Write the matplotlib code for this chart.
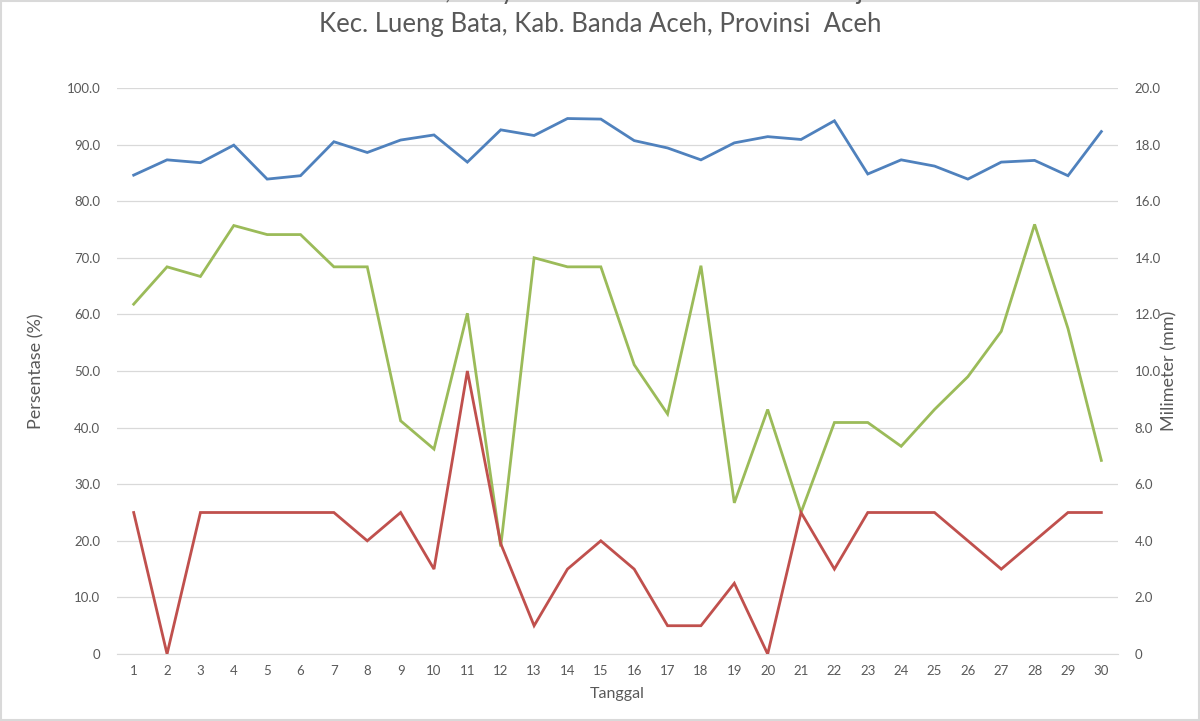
# -*- coding: utf-8 -*-
"""Grafik harian: persentase (sumbu kiri) dan curah hujan mm (sumbu kanan)."""
import matplotlib
matplotlib.use("Agg")
import matplotlib.pyplot as plt
from matplotlib.patches import Rectangle
from matplotlib.ticker import FuncFormatter

# Warna tema Excel 2007
BLUE = "#4F81BD"
RED = "#C0504D"
GREEN = "#9BBB59"
GRID = "#D9D9D9"
TEXT = "#595959"

plt.rcParams["font.family"] = ["Lato", "DejaVu Sans"]

tanggal = list(range(1, 31))

# Persentase (%) - sumbu kiri
seri_biru = [84.6, 87.3, 86.8, 89.9, 83.9, 84.5, 90.5, 88.6, 90.8, 91.7,
             86.9, 92.6, 91.6, 94.6, 94.5, 90.7, 89.4, 87.3, 90.3, 91.4,
             90.9, 94.2, 84.8, 87.3, 86.2, 83.9, 86.9, 87.2, 84.5, 92.3]
seri_hijau = [61.8, 68.4, 66.7, 75.7, 74.1, 74.1, 68.4, 68.4, 41.2, 36.2,
              60.2, 19.0, 70.0, 68.4, 68.4, 51.1, 42.4, 68.6, 26.7, 43.2,
              25.0, 40.9, 40.9, 36.7, 43.2, 49.0, 57.0, 75.9, 57.5, 34.2]

# Milimeter (mm) - sumbu kanan
seri_merah = [5.0, 0.0, 5.0, 5.0, 5.0, 5.0, 5.0, 4.0, 5.0, 3.0,
              10.0, 3.9, 1.0, 3.0, 4.0, 3.0, 1.0, 1.0, 2.5, 0.0,
              5.0, 3.0, 5.0, 5.0, 5.0, 4.0, 3.0, 4.0, 5.0, 5.0]

judul_1 = "Grafik Kelembaban, Penyinaran Matahari dan Curah Hujan Harian"
judul_2 = "Kec. Lueng Bata, Kab. Banda Aceh, Provinsi  Aceh"


def _fmt(v, _pos):
    return "0" if abs(v) < 1e-9 else "%.1f" % v


fig = plt.figure(figsize=(12.0, 7.21), dpi=100)
ax = fig.add_axes([0.0975, 0.0929, 0.8342, 0.7851])
ax2 = ax.twinx()

ax.plot(tanggal, seri_biru, color=BLUE, linewidth=2.0, solid_joinstyle="miter")
ax.plot(tanggal, seri_hijau, color=GREEN, linewidth=2.0, solid_joinstyle="miter")
ax2.plot(tanggal, seri_merah, color=RED, linewidth=2.0, solid_joinstyle="miter")

ax.set_xlim(0.5, 30.5)
ax.set_ylim(0, 100)
ax.set_yticks(range(0, 101, 10))
ax2.set_ylim(0, 20)
ax2.set_yticks(range(0, 21, 2))
ax.yaxis.set_major_formatter(FuncFormatter(_fmt))
ax2.yaxis.set_major_formatter(FuncFormatter(_fmt))
ax.set_xticks(tanggal)
ax.set_xticklabels([str(t) for t in tanggal])

ax.grid(axis="y", color=GRID, linewidth=0.9)
ax.set_axisbelow(True)
for a in (ax, ax2):
    for s in ("top", "left", "right"):
        a.spines[s].set_visible(False)
    a.spines["bottom"].set_color(GRID)
    a.tick_params(length=0, colors=TEXT, labelsize=9.5)
ax2.spines["bottom"].set_visible(False)
ax.tick_params(axis="y", pad=12)
ax.tick_params(axis="x", pad=8)
ax2.tick_params(axis="y", pad=12)

ax.set_ylabel("Persentase (%)", color=TEXT, fontsize=13, labelpad=16)
ax2.set_ylabel("Milimeter (mm)", color=TEXT, fontsize=13, labelpad=0)
ax.set_xlabel("Tanggal", color=TEXT, fontsize=11.5, labelpad=7)

# la primera linea del titulo queda casi fuera del borde, como en la imagen
fig.text(0.5, 1 + 1 / 721, judul_1, ha="center", va="baseline",
         fontsize=18.5, color=TEXT)
fig.text(0.5, 1 - 32 / 721, judul_2, ha="center", va="baseline",
         fontsize=18.5, color=TEXT)

fig.patches.append(Rectangle((0.001, 0.001), 0.998, 0.998,
                             transform=fig.transFigure, fill=False,
                             edgecolor=GRID, linewidth=1.5))

fig.savefig("out.png", dpi=100)
